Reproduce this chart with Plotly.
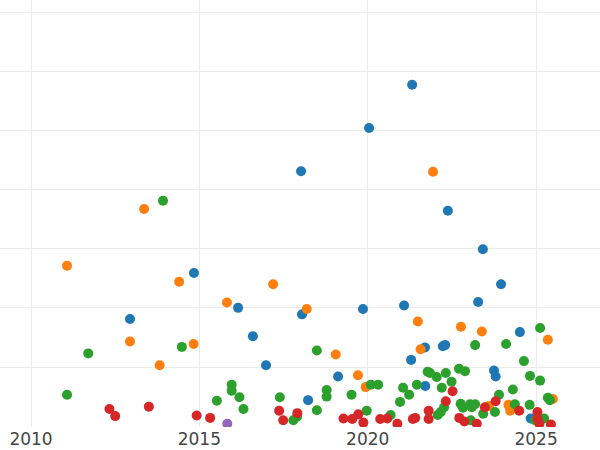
import plotly.graph_objects as go

# Release year (x) and value (y) per series
blue_x = [2021.32, 2020.04, 2018.02, 2022.38, 2023.42, 2014.84, 2023.96, 2012.94, 2023.28, 2021.08,
          2016.15, 2019.86, 2018.05, 2016.59, 2024.52, 2022.23, 2022.30, 2021.70, 2021.29, 2016.98,
          2023.75, 2023.80, 2019.12, 2021.71, 2018.23, 2024.84]
blue_y = [57.7, 50.4, 43.1, 36.4, 29.9, 25.9, 24.0, 18.1, 21.0, 20.4,
          20.0, 19.8, 18.9, 15.2, 15.9, 13.5, 13.7, 13.3, 11.2, 10.3,
          9.4, 8.4, 8.4, 6.8, 4.4, 1.3]

orange_x = [2013.36, 2011.07, 2021.94, 2014.40, 2017.19, 2018.19, 2015.82, 2021.49, 2022.77, 2023.39,
            2025.35, 2021.57, 2012.94, 2014.83, 2013.82, 2019.05, 2019.71, 2019.94, 2024.18, 2024.23,
            2025.50, 2023.60]
orange_y = [36.7, 27.1, 43.0, 24.4, 24.0, 19.8, 20.9, 17.7, 16.8, 16.0,
            14.6, 13.0, 14.3, 13.9, 10.3, 12.1, 8.6, 6.6, 3.6, 2.6,
            4.6, 3.4]

green_x = [2013.92, 2011.70, 2014.48, 2011.07, 2018.49, 2025.12, 2023.19, 2024.11, 2024.64, 2024.82,
           2025.12, 2021.78, 2021.85, 2022.05, 2022.32, 2022.49, 2022.71, 2022.89, 2022.20, 2021.05,
           2021.46, 2021.23, 2020.96, 2024.31, 2023.90, 2024.37, 2024.81, 2025.35, 2025.41, 2022.08,
           2022.17, 2022.27, 2022.76, 2022.83, 2023.04, 2023.09, 2023.19, 2023.43, 2023.78, 2023.06,
           2024.97, 2025.24, 2015.96, 2015.96, 2016.19, 2015.52, 2016.31, 2017.39, 2018.78, 2018.78,
           2018.49, 2017.90, 2017.79, 2019.52, 2020.09, 2020.31, 2019.97, 2020.68]
green_y = [38.1, 12.3, 13.4, 5.3, 12.8, 16.6, 13.7, 13.9, 11.0, 8.5,
           7.7, 9.2, 9.0, 8.3, 9.0, 7.5, 9.7, 9.3, 6.5, 6.5,
           7.0, 5.3, 4.1, 6.2, 5.3, 3.7, 3.6, 4.8, 4.4, 1.9,
           2.4, 3.2, 3.8, 3.1, 3.7, 3.2, 3.7, 2.1, 2.4, 1.0,
           1.0, 1.3, 7.0, 6.0, 4.9, 4.3, 2.9, 4.9, 6.1, 5.0,
           2.7, 1.6, 1.0, 5.3, 7.0, 7.0, 2.6, 1.9]

red_x = [2012.33, 2012.50, 2013.50, 2014.92, 2015.32, 2017.37, 2017.49, 2017.91, 2019.28, 2019.54,
         2019.72, 2019.87, 2020.37, 2020.58, 2020.88, 2021.34, 2021.41, 2021.81, 2021.81, 2022.32,
         2022.52, 2022.72, 2022.87, 2023.24, 2023.48, 2023.80, 2024.50, 2025.04, 2025.04, 2025.10,
         2025.44]
red_y = [2.9, 1.7, 3.3, 1.8, 1.4, 2.6, 1.0, 2.2, 1.3, 1.2,
         2.0, 0.6, 1.2, 1.3, 0.4, 1.2, 1.4, 2.6, 1.2, 4.2,
         5.9, 1.4, 0.8, 0.4, 3.2, 4.2, 2.6, 2.4, 1.2, 0.4,
         0.3]

purple_x = [2015.83]
purple_y = [0.4]

x_ticks = [2010, 2015, 2020, 2025]

series = [
    (blue_x, blue_y, "#1f77b4"),
    (orange_x, orange_y, "#ff7f0e"),
    (green_x, green_y, "#2ca02c"),
    (red_x, red_y, "#d62728"),
    (purple_x, purple_y, "#9467bd"),
]

fig = go.Figure()
for xs, ys, col in series:
    fig.add_trace(go.Scatter(x=xs, y=ys, mode="markers",
                             marker=dict(color=col, size=10, line=dict(width=0)),
                             showlegend=False))

fig.update_layout(
    width=600, height=450,
    margin=dict(l=0, r=0, t=0, b=23),
    paper_bgcolor="white", plot_bgcolor="white",
    font=dict(family="DejaVu Sans", color="#444444"),
    xaxis=dict(range=[2009.079, 2026.899], tickvals=x_ticks, ticktext=[str(t) for t in x_ticks],
               showgrid=True, gridcolor="#ebebeb", gridwidth=1, zeroline=False,
               showline=False, ticks="", tickfont=dict(size=17)),
    yaxis=dict(range=[-0.14, 72.03], tick0=0, dtick=10, showgrid=True, gridcolor="#ebebeb",
               gridwidth=1, zeroline=False, showline=False, showticklabels=False, ticks=""),
)

fig.write_html("out.html",
               config={"displayModeBar": False},
               post_script="document.body.style.margin='0';document.body.style.padding='0';")
